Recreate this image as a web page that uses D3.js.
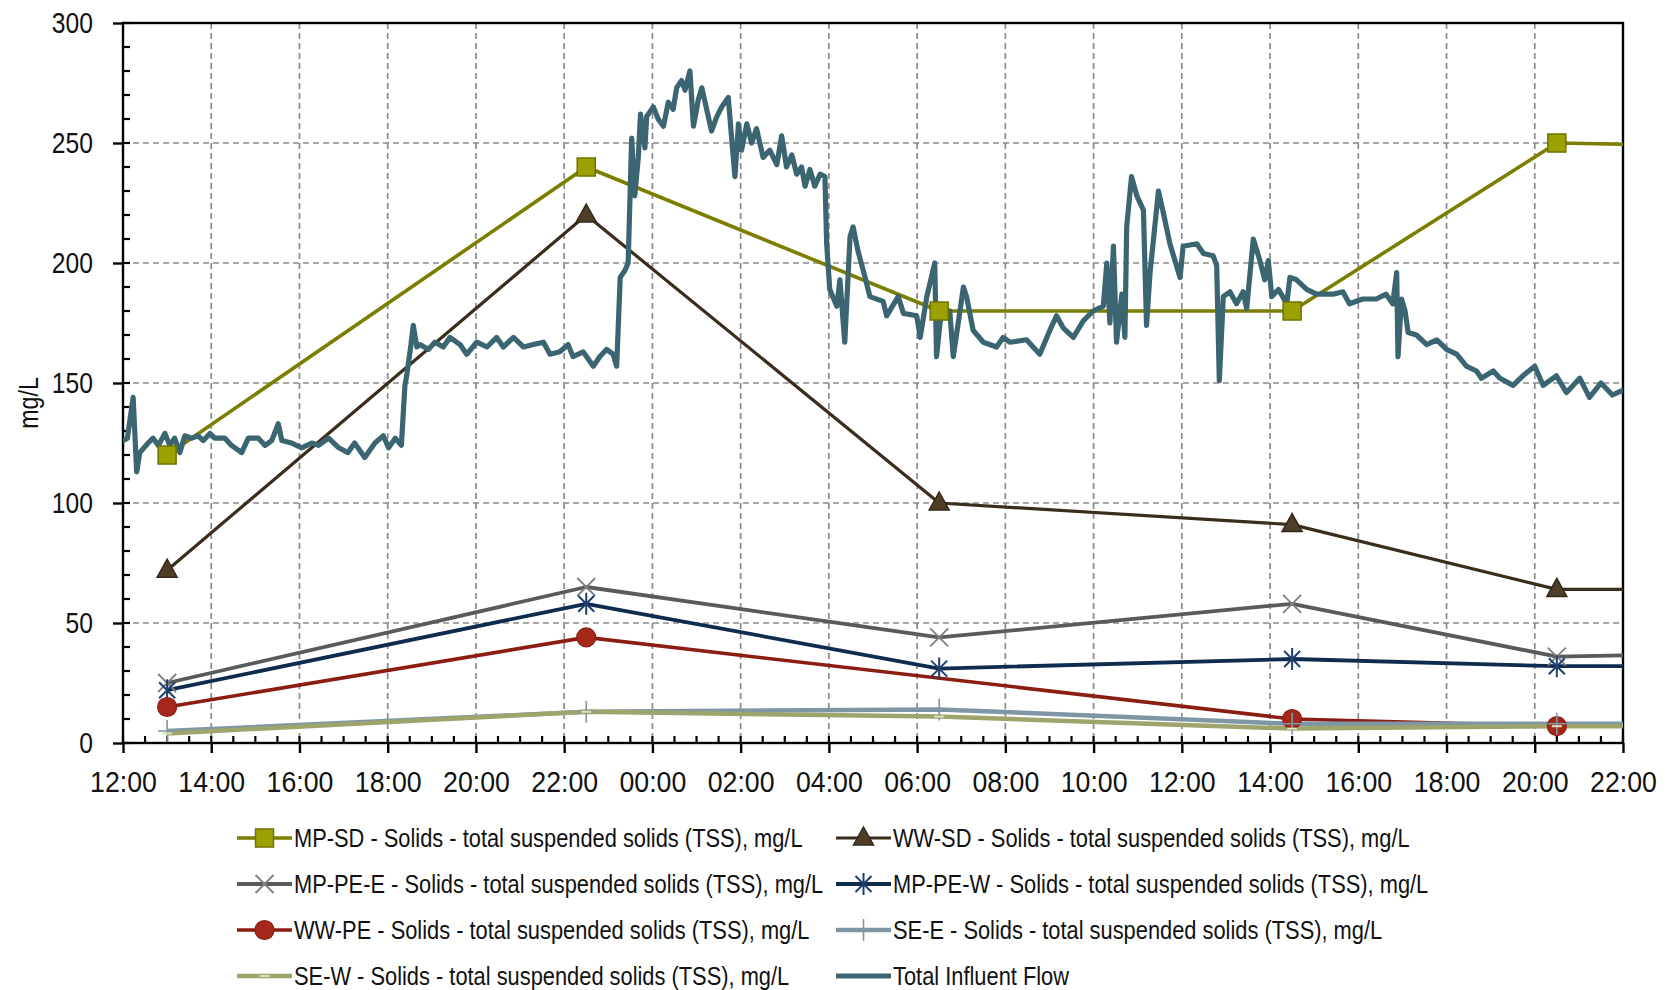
<!DOCTYPE html>
<html>
<head>
<meta charset="utf-8">
<script src="https://cdn.jsdelivr.net/npm/d3@7"></script>
<style>
  body { margin: 0; background: #fff; }
  svg text { font-family: "Liberation Sans Narrow", "Arial Narrow", "Liberation Sans", Arial, sans-serif; fill: #111; }
</style>
</head>
<body>
<svg width="1675" height="990"></svg>
<script>
// hours after 12:00 on day 1
const sampleHours = [1, 10.5, 18.5, 26.5, 32.5, 38.5];
const mpSD = [120, 240, 180, 180, 250, 248];
const wwSD = [72, 220, 100, 91, 64, 64];
const mpPEE = [25, 65, 44, 58, 36, 38];
const mpPEW = [22, 58, 31, 35, 32, 32];
const wwPE = [15, 44, null, 10, 7, 7];
const seE = [5, 13, 14, 8, 8, 8];
const seW = [4, 13, 11, 6, 7, 7];

// [hours after 12:00, value]
const flowPoints = [
  [0.00,126],[0.10,127],[0.23,144],[0.31,113],[0.38,121],[0.57,125],[0.68,127],[0.80,124],
  [0.95,129],[1.06,124],[1.17,127],[1.29,121],[1.40,128],[1.55,127],[1.70,128],[1.82,126],
  [1.97,129],[2.08,127],[2.31,127],[2.46,124],[2.69,121],[2.84,127],[3.07,127],[3.22,124],
  [3.37,126],[3.52,133],[3.60,126],[3.82,125],[4.05,123],[4.28,125],[4.43,124],[4.66,127],
  [4.89,123],[5.10,121],[5.25,125],[5.48,119],[5.71,125],[5.90,128],[6.02,123],[6.17,127],
  [6.31,124],[6.39,149],[6.43,153],[6.52,165],[6.58,174],[6.66,165],[6.73,166],[6.92,164],
  [7.07,167],[7.26,165],[7.41,169],[7.64,166],[7.79,162],[8.02,167],[8.25,165],[8.47,169],
  [8.62,165],[8.85,169],[9.08,165],[9.30,166],[9.53,167],[9.68,162],[9.90,163],[10.09,166],
  [10.20,161],[10.43,163],[10.66,157],[10.81,161],[10.96,164],[11.11,162],[11.19,157],[11.27,194],
  [11.38,197],[11.45,200],[11.53,252],[11.60,228],[11.68,244],[11.73,262],[11.83,248],[11.87,261],
  [12.02,265],[12.13,260],[12.25,257],[12.36,267],[12.47,264],[12.55,273],[12.66,276],[12.74,272],
  [12.85,280],[12.93,257],[13.04,268],[13.12,273],[13.23,264],[13.34,255],[13.46,261],[13.57,265],
  [13.72,269],[13.80,251],[13.87,236],[13.95,258],[14.02,247],[14.14,258],[14.25,250],[14.36,256],
  [14.51,244],[14.66,247],[14.82,241],[14.93,253],[15.04,240],[15.16,245],[15.27,237],[15.38,240],
  [15.46,232],[15.57,239],[15.68,232],[15.80,237],[15.91,236],[15.95,208],[16.02,189],[16.18,182],
  [16.25,193],[16.36,167],[16.48,211],[16.55,215],[16.66,205],[16.82,194],[16.93,186],[17.23,184],
  [17.31,178],[17.57,186],[17.69,179],[17.99,178],[18.07,169],[18.22,186],[18.40,200],[18.44,161],
  [18.56,182],[18.67,178],[18.74,180],[18.82,161],[19.05,190],[19.12,186],[19.27,172],[19.50,167],
  [19.80,165],[19.95,169],[20.10,167],[20.48,168],[20.78,162],[21.01,172],[21.16,178],[21.31,173],
  [21.54,169],[21.77,176],[21.99,180],[22.22,182],[22.30,200],[22.37,175],[22.45,207],[22.52,167],
  [22.64,187],[22.71,169],[22.75,215],[22.86,236],[22.98,228],[23.13,222],[23.20,174],[23.28,196],
  [23.47,230],[23.58,221],[23.73,208],[23.96,194],[24.03,207],[24.34,208],[24.49,204],[24.71,203],
  [24.79,199],[24.85,151],[24.94,186],[25.09,188],[25.24,183],[25.39,188],[25.47,181],[25.62,210],
  [25.77,201],[25.88,193],[25.96,201],[26.04,186],[26.19,189],[26.38,183],[26.45,194],[26.60,193],
  [26.83,189],[27.05,187],[27.43,187],[27.65,188],[27.80,183],[28.10,185],[28.41,185],[28.63,187],
  [28.78,183],[28.87,196],[28.90,161],[28.98,185],[29.06,180],[29.13,171],[29.32,170],[29.55,166],
  [29.78,168],[30.00,164],[30.23,162],[30.45,157],[30.68,155],[30.79,152],[31.06,155],[31.21,152],
  [31.51,149],[31.73,153],[32.00,157],[32.19,149],[32.49,153],[32.72,146],[33.02,152],[33.24,144],
  [33.50,150],[33.76,145],[34.00,147]
];

const start = new Date(2020, 0, 1, 12, 0);
const hourToDate = (h) => new Date(start.getTime() + h * 3600e3);

// the chart font is a narrow face; squeeze the installed sans to match
const squeeze = (sel, k) => sel.each(function () {
  const len = this.getComputedTextLength();
  d3.select(this).attr("textLength", len * k).attr("lengthAdjust", "spacingAndGlyphs");
});

const svg = d3.select("svg");
const margin = { left: 123, top: 23, right: 52, bottom: 247 };
const W = 1675, H = 990;
const x = d3.scaleTime()
  .domain([start, hourToDate(34)])
  .range([margin.left, W - margin.right]);
const y = d3.scaleLinear().domain([0, 300]).range([H - margin.bottom, margin.top]);

// grid
const majorTimes = d3.range(0, 35, 2).map(hourToDate);
svg.append("g").selectAll("line").data(majorTimes.slice(1, -1)).join("line")
  .attr("x1", (d) => x(d)).attr("x2", (d) => x(d))
  .attr("y1", y(300)).attr("y2", y(0))
  .attr("stroke", "#8a8a8a").attr("stroke-width", 1.7).attr("stroke-dasharray", "6,4");
svg.append("g").selectAll("line").data([50, 100, 150, 200, 250]).join("line")
  .attr("x1", x.range()[0]).attr("x2", x.range()[1])
  .attr("y1", (d) => y(d)).attr("y2", (d) => y(d))
  .attr("stroke", "#8a8a8a").attr("stroke-width", 1.7).attr("stroke-dasharray", "6,4");

// axes
const yAxis = svg.append("g").attr("transform", `translate(${margin.left},0)`)
  .call(d3.axisLeft(y).tickValues(d3.range(0, 301, 50)).tickSize(10).tickPadding(20));
const xAxis = svg.append("g").attr("transform", `translate(0,${y(0)})`)
  .call(d3.axisBottom(x).tickValues(majorTimes).tickFormat(d3.timeFormat("%H:%M")).tickSize(10).tickPadding(18));
[yAxis, xAxis].forEach((g) => {
  g.select(".domain").remove();
  g.selectAll("line").attr("stroke", "#000").attr("stroke-width", 2.4);
  g.selectAll("text").attr("font-size", 29).attr("fill", "#111");
});
yAxis.selectAll("text").call(squeeze, 0.85);
xAxis.selectAll("text").call(squeeze, 0.92);

// minor ticks inside
svg.append("g").selectAll("line").data(d3.range(0, 301, 10)).join("line")
  .attr("x1", margin.left).attr("x2", margin.left + 7)
  .attr("y1", (d) => y(d)).attr("y2", (d) => y(d))
  .attr("stroke", "#000").attr("stroke-width", 2.2);
svg.append("g").selectAll("line").data(d3.range(0, 34.1, 0.5).map(hourToDate)).join("line")
  .attr("x1", (d) => x(d)).attr("x2", (d) => x(d))
  .attr("y1", y(0)).attr("y2", y(0) - 7)
  .attr("stroke", "#000").attr("stroke-width", 2.2);
// frame
svg.append("rect")
  .attr("x", x.range()[0]).attr("y", y(300))
  .attr("width", x.range()[1] - x.range()[0]).attr("height", y(0) - y(300))
  .attr("fill", "none").attr("stroke", "#000").attr("stroke-width", 2.4);

svg.append("text")
  .attr("transform", `translate(38,${(y(0) + y(300)) / 2 + 20}) rotate(-90)`)
  .attr("text-anchor", "middle").attr("font-size", 27).text("mg/L").call(squeeze, 0.86);

// markers
const markers = {
  square: (g, c) => g.append("rect").attr("x", -9).attr("y", -9).attr("width", 18).attr("height", 18)
    .attr("fill", c.fill).attr("stroke", c.stroke).attr("stroke-width", 1.5),
  triangle: (g, c) => g.append("path").attr("d", "M0,-11L10,7L-10,7Z")
    .attr("fill", c.fill).attr("stroke", c.stroke).attr("stroke-width", 1.5),
  times: (g, c) => g.append("path").attr("d", "M-9,-9L9,9M-9,9L9,-9")
    .attr("stroke", c.fill).attr("stroke-width", 1.8),
  asterisk: (g, c) => g.append("path").attr("d", "M-8,-8L8,8M-8,8L8,-8M0,-11L0,11")
    .attr("stroke", c.fill).attr("stroke-width", 2),
  circle: (g, c) => g.append("circle").attr("r", 9.5)
    .attr("fill", c.fill).attr("stroke", c.stroke).attr("stroke-width", 1.2),
  plus: (g, c) => g.append("path").attr("d", "M0,-11L0,11M-9,0L9,0")
    .attr("stroke", c.fill).attr("stroke-width", 1.6),
  dash: (g, c) => g.append("path").attr("d", "M-5,0L5,0")
    .attr("stroke", c.fill).attr("stroke-width", 2),
  none: () => {}
};

const series = [
  { name: "MP-SD - Solids - total suspended solids (TSS), mg/L", values: mpSD, line: "#7b7e00", width: 3.6, marker: "square", fill: "#9aa100", stroke: "#6f7300" },
  { name: "WW-SD - Solids - total suspended solids (TSS), mg/L", values: wwSD, line: "#3b2d1c", width: 3.2, marker: "triangle", fill: "#4e3e27", stroke: "#35281a" },
  { name: "MP-PE-E - Solids - total suspended solids (TSS), mg/L", values: mpPEE, line: "#575b5b", width: 3.8, marker: "times", fill: "#808080" },
  { name: "MP-PE-W - Solids - total suspended solids (TSS), mg/L", values: mpPEW, line: "#0f2c4f", width: 3.8, marker: "asterisk", fill: "#1f3f6e" },
  { name: "WW-PE - Solids - total suspended solids (TSS), mg/L", values: wwPE, line: "#8c1d12", width: 3.6, marker: "circle", fill: "#a6281a", stroke: "#8a1f14" },
  { name: "SE-E - Solids - total suspended solids (TSS), mg/L", values: seE, line: "#7f97a4", width: 4.5, marker: "plus", fill: "#7f97a4" },
  { name: "SE-W - Solids - total suspended solids (TSS), mg/L", values: seW, line: "#9ea46c", width: 4.5, marker: "dash", fill: "#dfe2b8" }
];
const flowSeries = { name: "Total Influent Flow", line: "#3b6571", width: 5.2, marker: "none" };

svg.append("clipPath").attr("id", "plot").append("rect")
  .attr("x", x.range()[0]).attr("y", y(300) - 12)
  .attr("width", x.range()[1] - x.range()[0]).attr("height", y(0) - y(300) + 24);

const plot = svg.append("g").attr("clip-path", "url(#plot)");
const line = d3.line().x((d) => x(hourToDate(d[0]))).y((d) => y(d[1]));

series.forEach((s) => {
  const pts = sampleHours.map((h, i) => [h, s.values[i]]).filter((d) => d[1] != null);
  plot.append("path").attr("d", line(pts)).attr("fill", "none")
    .attr("stroke", s.line).attr("stroke-width", s.width).attr("stroke-linejoin", "round");
});
plot.append("path").attr("d", line(flowPoints)).attr("fill", "none")
  .attr("stroke", flowSeries.line).attr("stroke-width", flowSeries.width)
  .attr("stroke-linejoin", "round").attr("stroke-linecap", "round");
series.forEach((s) => {
  sampleHours.forEach((h, i) => {
    if (s.values[i] == null) return;
    const g = plot.append("g").attr("transform", `translate(${x(hourToDate(h))},${y(s.values[i])})`);
    markers[s.marker](g, s);
  });
});

// legend
const legendItems = series.concat([flowSeries]);
const legend = svg.append("g");
legendItems.forEach((s, i) => {
  const col = i % 2, row = Math.floor(i / 2);
  const lx = col === 0 ? 237 : 836;
  const ly = 838 + row * 46;
  const g = legend.append("g").attr("transform", `translate(${lx},${ly})`);
  g.append("line").attr("x1", 0).attr("x2", 55).attr("y1", 0).attr("y2", 0)
    .attr("stroke", s.line).attr("stroke-width", s.width);
  markers[s.marker](g.append("g").attr("transform", "translate(27.5,0)"), s);
  g.append("text").attr("x", 57).attr("y", 0).attr("dy", "0.36em")
    .attr("font-size", 26).text(s.name).call(squeeze, 0.84);
});
</script>
</body>
</html>
